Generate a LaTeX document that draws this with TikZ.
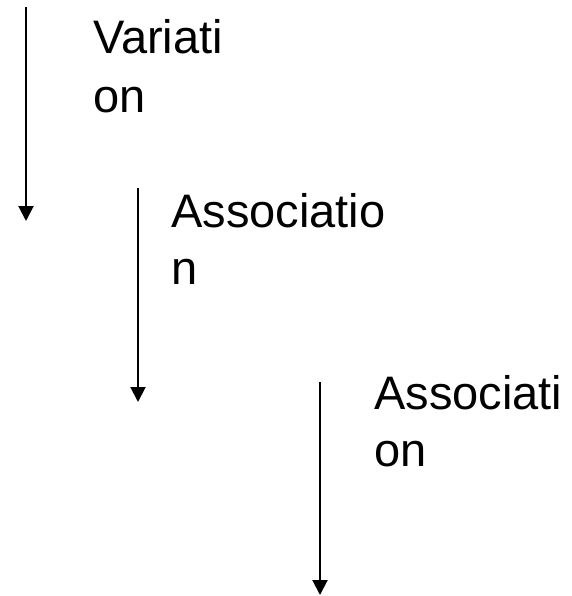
\documentclass[tikz,border=0pt]{standalone}
\usepackage{fontspec}
\setmainfont{Liberation Sans}
\usetikzlibrary{arrows.meta}
\begin{document}
\begin{tikzpicture}[x=1pt,y=1pt,
  flow/.style={line width=2pt,-{Triangle[width=15pt,length=15pt]}},
  lbl/.style={anchor=north west,inner sep=0pt,align=left}]
\useasboundingbox[fill=white] (0,0) rectangle (571,-596);
\coordinate (a1s) at (26,-7);
\coordinate (a1e) at (26,-221);
\coordinate (a2s) at (138,-188);
\coordinate (a2e) at (138,-402);
\coordinate (a3s) at (320,-382);
\coordinate (a3e) at (320,-595);
\draw[flow] (a1s) -- (a1e);
\draw[flow] (a2s) -- (a2e);
\draw[flow] (a3s) -- (a3e);
\node[lbl,font={\fontsize{47}{59}\selectfont}] (t1) at (93,-19) {Variati\\on};
\node[lbl,font={\fontsize{47}{57}\selectfont}] (t2) at (171,-193) {Associatio\\n};
\node[lbl,font={\fontsize{47}{57}\selectfont}] (t3) at (374,-375) {Associati\\on};
\end{tikzpicture}
\end{document}
